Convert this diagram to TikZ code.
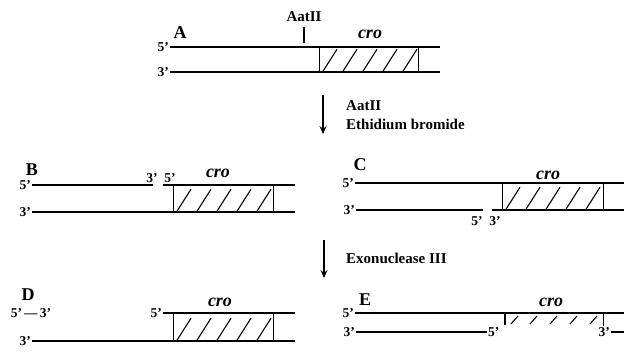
\documentclass[tikz,border=0pt]{standalone}
\usepackage{fontspec}
\setmainfont{Liberation Serif}
\usetikzlibrary{arrows.meta,calc}
\tikzset{
  strand/.style={line width=1.4pt},
  crobox/.style={draw, line width=1.2pt, inner sep=0pt, anchor=north west},
  hatchline/.style={line width=1.1pt},
  endlbl/.style={font=\fontsize{13.5}{13.5}\selectfont\bfseries, inner sep=1pt},
  panel/.style={font=\fontsize{18}{18}\selectfont\bfseries, inner sep=0pt},
  genelbl/.style={font=\fontsize{18}{18}\selectfont\bfseries\itshape, inner sep=0pt},
  steplbl/.style={font=\fontsize{15}{15}\selectfont\bfseries, inner sep=0pt, anchor=west},
  downarrow/.style={line width=1.1pt, -{Stealth[length=8pt,width=7pt,inset=3pt]}}
}
\newcommand\myhatch[1]{%
  \begin{scope}
    \clip (#1.south west) rectangle (#1.north east);
    \foreach \i in {0,...,5} {
      \draw[hatchline] ($(#1.south west)+(4+20*\i,-2)$) -- ++(14,-22);
    }
  \end{scope}}
\begin{document}
\begin{tikzpicture}[x=1pt,y=-1pt]
\useasboundingbox (0,0) rectangle (624,353);

% ---------- Panel A ----------
\node[panel] (lA) at (180,33) {A};
\node[steplbl, anchor=center] (aat) at (304,17) {AatII};
\coordinate (tickT) at (304,27);
\coordinate (tickB) at (304,43);
\draw[line width=1.1pt] (tickT) -- (tickB);
\node[genelbl] (croA) at (370,34) {cro};
\node[endlbl, anchor=east] (a5) at (170,47) {5'};
\node[endlbl, anchor=east] (a3) at (170,72) {3'};
\coordinate (a5e) at (440,47);
\coordinate (a3e) at (440,72);
\node[crobox, minimum width=99pt, minimum height=25pt] (boxA) at (319,47) {};
\myhatch{boxA}
\draw[strand] (a5.east) -- (a5e);
\draw[strand] (a3.east) -- (a3e);

% ---------- Arrow 1 ----------
\coordinate (ar1s) at (323,95);
\coordinate (ar1e) at (323,134);
\draw[downarrow] (ar1s) -- (ar1e);
\node[steplbl] (s1) at (346,106) {AatII};
\node[steplbl] (s2) at (346,124) {Ethidium bromide};

% ---------- Panel B ----------
\node[panel] (lB) at (32,170) {B};
\node[genelbl] (croB) at (218,173) {cro};
\node[endlbl, anchor=east] (b5) at (32,185) {5'};
\node[endlbl, anchor=east] (b3) at (32,212) {3'};
\node[endlbl] (b3m) at (152,178) {3'};
\node[endlbl] (b5m) at (170,178) {5'};
\coordinate (bgapL) at (153,185);
\coordinate (bgapR) at (163,185);
\coordinate (b5e) at (295,185);
\coordinate (b3e) at (295,212);
\node[crobox, minimum width=100pt, minimum height=27pt] (boxB) at (173,185) {};
\myhatch{boxB}
\draw[strand] (b5.east) -- (bgapL);
\draw[strand] (bgapR) -- (b5e);
\draw[strand] (b3.east) -- (b3e);

% ---------- Panel C ----------
\node[panel] (lC) at (360,165) {C};
\node[genelbl] (croC) at (548,175) {cro};
\node[endlbl, anchor=east] (c5) at (355,183) {5'};
\node[endlbl, anchor=east] (c3) at (356,210) {3'};
\node[endlbl] (c5m) at (477,221) {5'};
\node[endlbl] (c3m) at (495,221) {3'};
\coordinate (c5e) at (624,183);
\coordinate (cgapL) at (483,210);
\coordinate (cgapR) at (492,210);
\coordinate (c3e) at (624,210);
\node[crobox, minimum width=101pt, minimum height=27pt] (boxC) at (502,183) {};
\myhatch{boxC}
\draw[strand] (c5.east) -- (c5e);
\draw[strand] (c3.east) -- (cgapL);
\draw[strand] (cgapR) -- (c3e);

% ---------- Arrow 2 ----------
\coordinate (ar2s) at (324,240);
\coordinate (ar2e) at (324,278);
\draw[downarrow] (ar2s) -- (ar2e);
\node[steplbl] (s3) at (346,258) {Exonuclease III};

% ---------- Panel D ----------
\node[panel] (lD) at (28,295) {D};
\node[genelbl] (croD) at (220,302) {cro};
\node[endlbl] (d53) at (31,313) {5'\,---\,3'};
\node[endlbl, anchor=east] (d5) at (163,313) {5'};
\node[endlbl, anchor=east] (d3) at (32,341) {3'};
\coordinate (d5e) at (295,313);
\coordinate (d3e) at (295,341);
\node[crobox, minimum width=100pt, minimum height=28pt] (boxD) at (173,313) {};
\myhatch{boxD}
\draw[strand] (d5.east) -- (d5e);
\draw[strand] (d3.east) -- (d3e);

% ---------- Panel E ----------
\node[panel] (lE) at (365,300) {E};
\node[genelbl] (croE) at (551,302) {cro};
\node[endlbl, anchor=east] (e5) at (355,313) {5'};
\node[endlbl, anchor=east] (e3) at (356,332) {3'};
\node[endlbl, anchor=west] (e5m) at (487,332) {5'};
\node[endlbl, anchor=east] (e3m) at (611,332) {3'};
\coordinate (e5e) at (624,313);
\coordinate (e3e) at (624,332);
\draw[strand] (e5.east) -- (e5e);
\draw[strand] (e3.east) -- (e5m.west);
\draw[strand] (e3m.east) -- (e3e);
\coordinate (eL1) at (505,313);
\coordinate (eL2) at (505,325);
\coordinate (eR1) at (603,313);
\coordinate (eR2) at (603,326);
\draw[line width=1.1pt] (eL1) -- (eL2);
\draw[line width=0.8pt] (eR1) -- (eR2);
\foreach \x in {511,530,550,570,590} {
  \draw[hatchline] (\x,324) -- ++(7,-8);
}
\end{tikzpicture}
\end{document}
